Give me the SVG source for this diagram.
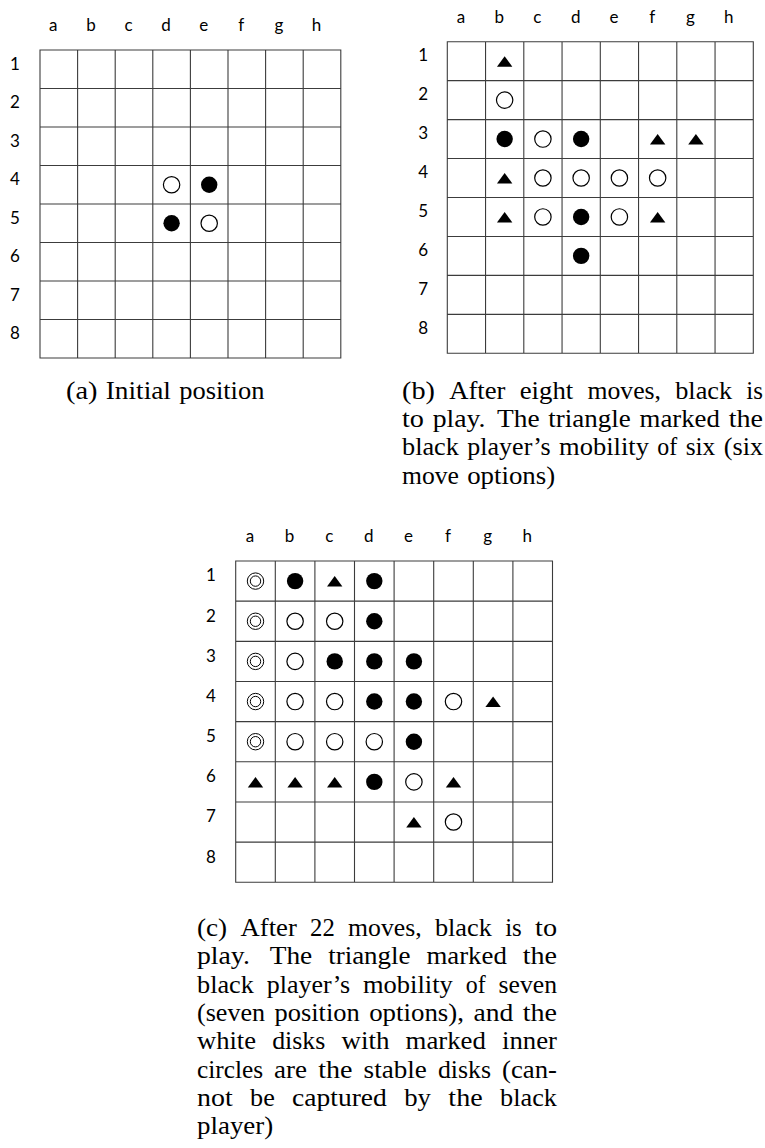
<svg xmlns="http://www.w3.org/2000/svg" xmlns:xlink="http://www.w3.org/1999/xlink" width="765" height="1148" viewBox="0 0 765 1148">
<style>
.grid{fill:none;stroke:#3c3c3c;stroke-width:1.1}
.lbl{font-family:Lato,"Open Sans","Liberation Sans",sans-serif;font-size:17px;fill:#000;text-anchor:middle}
.cap{font-family:"Liberation Serif","Times New Roman",serif;font-size:24.5px;fill:#000}
</style>
<defs>
<circle id="w" r="8.2" fill="#fff" stroke="#000" stroke-width="1.2"/>
<circle id="k" r="8.2" fill="#000"/>
<path id="t" d="M0,-5 L7.7,5.5 L-7.7,5.5 Z" fill="#000"/>
<g id="s"><circle r="8.2" fill="#fff" stroke="#000" stroke-width="1"/><circle r="5.2" fill="none" stroke="#000" stroke-width="1"/></g>
</defs>
<rect width="765" height="1148" fill="#fff"/>

<g id="board-a">
<path class="grid" d="M40,50H340.8V358H40Z M77.6,50V358 M115.2,50V358 M152.8,50V358 M190.4,50V358 M228,50V358 M265.6,50V358 M303.2,50V358 M40,88.5H340.8 M40,127H340.8 M40,165.5H340.8 M40,204H340.8 M40,242.5H340.8 M40,281H340.8 M40,319.5H340.8"/>
<g class="lbl">
<text x="53.3" y="31">a</text><text x="90.9" y="31">b</text><text x="128.5" y="31">c</text><text x="166.1" y="31">d</text><text x="203.7" y="31">e</text><text x="241.3" y="31">f</text><text x="278.9" y="31">g</text><text x="316.5" y="31">h</text>
<text x="15" y="69.5">1</text><text x="15" y="108">2</text><text x="15" y="146.5">3</text><text x="15" y="185">4</text><text x="15" y="223.5">5</text><text x="15" y="262">6</text><text x="15" y="300.5">7</text><text x="15" y="339">8</text>
</g>
<use xlink:href="#w" x="171.6" y="184.75"/>
<use xlink:href="#k" x="209.2" y="184.75"/>
<use xlink:href="#k" x="171.6" y="223.25"/>
<use xlink:href="#w" x="209.2" y="223.25"/>
</g>

<g id="board-b">
<path class="grid" d="M447.3,41.7H753.3V353.3H447.3Z M485.55,41.7V353.3 M523.8,41.7V353.3 M562.05,41.7V353.3 M600.3,41.7V353.3 M638.55,41.7V353.3 M676.8,41.7V353.3 M715.05,41.7V353.3 M447.3,80.65H753.3 M447.3,119.6H753.3 M447.3,158.55H753.3 M447.3,197.5H753.3 M447.3,236.45H753.3 M447.3,275.4H753.3 M447.3,314.35H753.3"/>
<g class="lbl">
<text x="460.9" y="22.5">a</text><text x="499.15" y="22.5">b</text><text x="537.4" y="22.5">c</text><text x="575.65" y="22.5">d</text><text x="613.9" y="22.5">e</text><text x="652.15" y="22.5">f</text><text x="690.4" y="22.5">g</text><text x="728.65" y="22.5">h</text>
<text x="423.3" y="61.4">1</text><text x="423.3" y="100.35">2</text><text x="423.3" y="139.3">3</text><text x="423.3" y="178.25">4</text><text x="423.3" y="217.2">5</text><text x="423.3" y="256.15">6</text><text x="423.3" y="295.1">7</text><text x="423.3" y="334.05">8</text>
</g>
<use xlink:href="#t" x="504.65" y="61.15"/>
<use xlink:href="#w" x="504.65" y="100.1"/>
<use xlink:href="#k" x="504.65" y="139.05"/>
<use xlink:href="#w" x="542.9" y="139.05"/>
<use xlink:href="#k" x="581.15" y="139.05"/>
<use xlink:href="#t" x="657.65" y="139.05"/>
<use xlink:href="#t" x="695.9" y="139.05"/>
<use xlink:href="#t" x="504.65" y="178"/>
<use xlink:href="#w" x="542.9" y="178"/>
<use xlink:href="#w" x="581.15" y="178"/>
<use xlink:href="#w" x="619.4" y="178"/>
<use xlink:href="#w" x="657.65" y="178"/>
<use xlink:href="#t" x="504.65" y="216.95"/>
<use xlink:href="#w" x="542.9" y="216.95"/>
<use xlink:href="#k" x="581.15" y="216.95"/>
<use xlink:href="#w" x="619.4" y="216.95"/>
<use xlink:href="#t" x="657.65" y="216.95"/>
<use xlink:href="#k" x="581.15" y="255.9"/>
</g>

<g id="board-c">
<path class="grid" d="M235.7,561H552.5V882.3H235.7Z M275.3,561V882.3 M314.9,561V882.3 M354.5,561V882.3 M394.1,561V882.3 M433.7,561V882.3 M473.3,561V882.3 M512.9,561V882.3 M235.7,601.16H552.5 M235.7,641.33H552.5 M235.7,681.49H552.5 M235.7,721.65H552.5 M235.7,761.81H552.5 M235.7,801.98H552.5 M235.7,842.14H552.5"/>
<g class="lbl">
<text x="250" y="541.5">a</text><text x="289.6" y="541.5">b</text><text x="329.2" y="541.5">c</text><text x="368.8" y="541.5">d</text><text x="408.4" y="541.5">e</text><text x="448" y="541.5">f</text><text x="487.6" y="541.5">g</text><text x="527.2" y="541.5">h</text>
<text x="211" y="581.4">1</text><text x="211" y="621.5">2</text><text x="211" y="661.7">3</text><text x="211" y="701.8">4</text><text x="211" y="742">5</text><text x="211" y="782.2">6</text><text x="211" y="822.3">7</text><text x="211" y="862.5">8</text>
</g>
<use xlink:href="#s" x="255.5" y="581.1"/>
<use xlink:href="#k" x="295.1" y="581.1"/>
<use xlink:href="#t" x="334.7" y="581.1"/>
<use xlink:href="#k" x="374.3" y="581.1"/>
<use xlink:href="#s" x="255.5" y="621.25"/>
<use xlink:href="#w" x="295.1" y="621.25"/>
<use xlink:href="#w" x="334.7" y="621.25"/>
<use xlink:href="#k" x="374.3" y="621.25"/>
<use xlink:href="#s" x="255.5" y="661.4"/>
<use xlink:href="#w" x="295.1" y="661.4"/>
<use xlink:href="#k" x="334.7" y="661.4"/>
<use xlink:href="#k" x="374.3" y="661.4"/>
<use xlink:href="#k" x="413.9" y="661.4"/>
<use xlink:href="#s" x="255.5" y="701.55"/>
<use xlink:href="#w" x="295.1" y="701.55"/>
<use xlink:href="#w" x="334.7" y="701.55"/>
<use xlink:href="#k" x="374.3" y="701.55"/>
<use xlink:href="#k" x="413.9" y="701.55"/>
<use xlink:href="#w" x="453.5" y="701.55"/>
<use xlink:href="#t" x="493.1" y="701.55"/>
<use xlink:href="#s" x="255.5" y="741.7"/>
<use xlink:href="#w" x="295.1" y="741.7"/>
<use xlink:href="#w" x="334.7" y="741.7"/>
<use xlink:href="#w" x="374.3" y="741.7"/>
<use xlink:href="#k" x="413.9" y="741.7"/>
<use xlink:href="#t" x="255.5" y="781.9"/>
<use xlink:href="#t" x="295.1" y="781.9"/>
<use xlink:href="#t" x="334.7" y="781.9"/>
<use xlink:href="#k" x="374.3" y="781.9"/>
<use xlink:href="#w" x="413.9" y="781.9"/>
<use xlink:href="#t" x="453.5" y="781.9"/>
<use xlink:href="#t" x="413.9" y="822"/>
<use xlink:href="#w" x="453.5" y="822"/>
</g>

<g id="caption-a">
<text class="cap" y="398.5"><tspan x="66" textLength="31.56" lengthAdjust="spacingAndGlyphs">(a)</tspan><tspan x="105.79" textLength="65.18" lengthAdjust="spacingAndGlyphs">Initial</tspan><tspan x="179.2" textLength="85.22" lengthAdjust="spacingAndGlyphs">position</tspan></text>
</g>

<g id="caption-b">
<text class="cap" y="398.5"><tspan x="402" textLength="32.94" lengthAdjust="spacingAndGlyphs">(b)</tspan><tspan x="449.16" textLength="56.33" lengthAdjust="spacingAndGlyphs">After</tspan><tspan x="519.71" textLength="53.52" lengthAdjust="spacingAndGlyphs">eight</tspan><tspan x="587.45" textLength="73.55" lengthAdjust="spacingAndGlyphs">moves,</tspan><tspan x="675.22" textLength="56.95" lengthAdjust="spacingAndGlyphs">black</tspan><tspan x="746.39" textLength="16.6" lengthAdjust="spacingAndGlyphs">is</tspan></text>
<text class="cap" y="426.8"><tspan x="402" textLength="21.96" lengthAdjust="spacingAndGlyphs">to</tspan><tspan x="432.73" textLength="52.83" lengthAdjust="spacingAndGlyphs">play.</tspan><tspan x="497.08" textLength="42.54" lengthAdjust="spacingAndGlyphs">The</tspan><tspan x="548.39" textLength="82.4" lengthAdjust="spacingAndGlyphs">triangle</tspan><tspan x="639.56" textLength="80.34" lengthAdjust="spacingAndGlyphs">marked</tspan><tspan x="728.67" textLength="34.31" lengthAdjust="spacingAndGlyphs">the</tspan></text>
<text class="cap" y="455.2"><tspan x="402" textLength="56.95" lengthAdjust="spacingAndGlyphs">black</tspan><tspan x="467.38" textLength="83.23" lengthAdjust="spacingAndGlyphs">player’s</tspan><tspan x="559.04" textLength="89.88" lengthAdjust="spacingAndGlyphs">mobility</tspan><tspan x="657.35" textLength="19.9" lengthAdjust="spacingAndGlyphs">of</tspan><tspan x="685.68" textLength="29.64" lengthAdjust="spacingAndGlyphs">six</tspan><tspan x="723.75" textLength="39.25" lengthAdjust="spacingAndGlyphs">(six</tspan></text>
<text class="cap" y="483.5"><tspan x="402" textLength="56.95" lengthAdjust="spacingAndGlyphs">move</tspan><tspan x="467.18" textLength="87.96" lengthAdjust="spacingAndGlyphs">options)</tspan></text>
</g>

<g id="caption-c">
<text class="cap" y="936"><tspan x="197" textLength="30.19" lengthAdjust="spacingAndGlyphs">(c)</tspan><tspan x="240.48" textLength="56.33" lengthAdjust="spacingAndGlyphs">After</tspan><tspan x="310.1" textLength="24.7" lengthAdjust="spacingAndGlyphs">22</tspan><tspan x="348.09" textLength="73.55" lengthAdjust="spacingAndGlyphs">moves,</tspan><tspan x="434.93" textLength="56.95" lengthAdjust="spacingAndGlyphs">black</tspan><tspan x="505.17" textLength="16.6" lengthAdjust="spacingAndGlyphs">is</tspan><tspan x="535.06" textLength="21.96" lengthAdjust="spacingAndGlyphs">to</tspan></text>
<text class="cap" y="964.3"><tspan x="197" textLength="52.83" lengthAdjust="spacingAndGlyphs">play.</tspan><tspan x="269.73" textLength="42.54" lengthAdjust="spacingAndGlyphs">The</tspan><tspan x="328.17" textLength="82.4" lengthAdjust="spacingAndGlyphs">triangle</tspan><tspan x="426.47" textLength="80.34" lengthAdjust="spacingAndGlyphs">marked</tspan><tspan x="522.71" textLength="34.31" lengthAdjust="spacingAndGlyphs">the</tspan></text>
<text class="cap" y="992.7"><tspan x="197" textLength="56.95" lengthAdjust="spacingAndGlyphs">black</tspan><tspan x="266.85" textLength="83.23" lengthAdjust="spacingAndGlyphs">player’s</tspan><tspan x="362.98" textLength="89.88" lengthAdjust="spacingAndGlyphs">mobility</tspan><tspan x="465.76" textLength="19.9" lengthAdjust="spacingAndGlyphs">of</tspan><tspan x="498.56" textLength="58.46" lengthAdjust="spacingAndGlyphs">seven</tspan></text>
<text class="cap" y="1021"><tspan x="197" textLength="68.06" lengthAdjust="spacingAndGlyphs">(seven</tspan><tspan x="274.51" textLength="85.22" lengthAdjust="spacingAndGlyphs">position</tspan><tspan x="369.18" textLength="94.82" lengthAdjust="spacingAndGlyphs">options),</tspan><tspan x="473.45" textLength="39.8" lengthAdjust="spacingAndGlyphs">and</tspan><tspan x="522.7" textLength="34.31" lengthAdjust="spacingAndGlyphs">the</tspan></text>
<text class="cap" y="1049.3"><tspan x="197" textLength="59.01" lengthAdjust="spacingAndGlyphs">white</tspan><tspan x="272.15" textLength="53.11" lengthAdjust="spacingAndGlyphs">disks</tspan><tspan x="341.4" textLength="48.03" lengthAdjust="spacingAndGlyphs">with</tspan><tspan x="405.57" textLength="80.34" lengthAdjust="spacingAndGlyphs">marked</tspan><tspan x="502.05" textLength="54.96" lengthAdjust="spacingAndGlyphs">inner</tspan></text>
<text class="cap" y="1077.7"><tspan x="197" textLength="66.07" lengthAdjust="spacingAndGlyphs">circles</tspan><tspan x="274.14" textLength="33" lengthAdjust="spacingAndGlyphs">are</tspan><tspan x="318.21" textLength="34.31" lengthAdjust="spacingAndGlyphs">the</tspan><tspan x="363.59" textLength="63.26" lengthAdjust="spacingAndGlyphs">stable</tspan><tspan x="437.92" textLength="53.11" lengthAdjust="spacingAndGlyphs">disks</tspan><tspan x="502.1" textLength="54.89" lengthAdjust="spacingAndGlyphs">(can-</tspan></text>
<text class="cap" y="1106"><tspan x="197" textLength="35.68" lengthAdjust="spacingAndGlyphs">not</tspan><tspan x="250.05" textLength="24.7" lengthAdjust="spacingAndGlyphs">be</tspan><tspan x="292.12" textLength="94.75" lengthAdjust="spacingAndGlyphs">captured</tspan><tspan x="404.24" textLength="26.76" lengthAdjust="spacingAndGlyphs">by</tspan><tspan x="448.37" textLength="34.31" lengthAdjust="spacingAndGlyphs">the</tspan><tspan x="500.05" textLength="56.95" lengthAdjust="spacingAndGlyphs">black</tspan></text>
<text class="cap" y="1134.3"><tspan x="197" textLength="76.23" lengthAdjust="spacingAndGlyphs">player)</tspan></text>
</g>
</svg>
